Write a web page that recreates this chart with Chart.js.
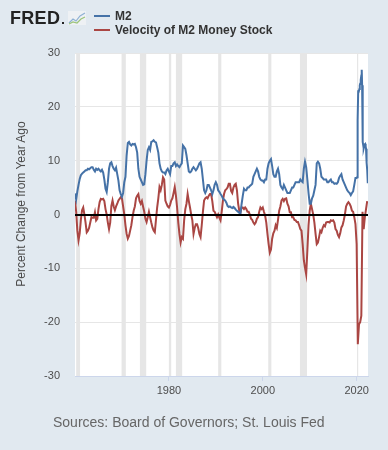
<!DOCTYPE html>
<html>
<head>
<meta charset="utf-8">
<script src="https://cdn.jsdelivr.net/npm/chart.js@4/dist/chart.umd.min.js"></script>
<style>
  html, body { margin: 0; padding: 0; }
  body { width: 388px; height: 450px; background: #e1e9f0; font-family: "Liberation Sans", Arial, sans-serif; }
  #wrap { position: relative; width: 388px; height: 450px; overflow: hidden; }
  canvas { position: absolute; left: 0; top: 0; }
  .logo { position: absolute; left: 10px; top: 8px; font-weight: 900; font-size: 18px; letter-spacing: 0.3px; color: #222; line-height: 20px; }
  .logo .dot { position: absolute; left: 52px; top: 14px; width: 2px; height: 2px; background: #222; }
  .logo svg { position: absolute; left: 58px; top: 3px; }
  .leg { position: absolute; left: 94px; font-weight: bold; font-size: 12px; color: #333; line-height: 14px; }
  .leg .sw { position: absolute; left: 0; top: 6px; width: 16px; height: 2px; }
  .leg .tx { position: absolute; left: 21px; top: 0; white-space: nowrap; }
  .ytitle { position: absolute; width: 250px; left: -104px; top: 196px; height: 16px; line-height: 16px; text-align: center; font-size: 12px; color: #4d4d4d; transform: rotate(-90deg); transform-origin: 50% 50%; white-space: nowrap; }
  .src { position: absolute; left: 53px; top: 414px; font-size: 14px; color: #666; white-space: nowrap; }
</style>
</head>
<body>
<div id="wrap">
  <canvas id="c" width="388" height="450"></canvas>
  <div class="logo">FRED<span class="dot"></span><svg width="18" height="14" viewBox="0 0 18 14"><rect x="0" y="0" width="18" height="14" fill="#eef1f4"/><polyline points="1,12 5,8 8,10 12,5 17,2" fill="none" stroke="#8fb1d4" stroke-width="1.2"/><polyline points="1,13 5,11 9,12 13,8 17,6" fill="none" stroke="#9cc47a" stroke-width="1.2"/></svg></div>
  <div class="leg" style="top:9px"><div class="sw" style="background:#4572a7"></div><div class="tx">M2</div></div>
  <div class="leg" style="top:23px"><div class="sw" style="background:#aa4643"></div><div class="tx">Velocity of M2 Money Stock</div></div>
  <div class="ytitle">Percent Change from Year Ago</div>
  <div class="src">Sources: Board of Governors; St. Louis Fed</div>
</div>
<script>
// M2, percent change from year ago, quarterly 1960Q1..2019Q4
const m2Quarterly = [
  3.9, 2.8, 4.3, 5.5,   6.6, 7.3, 7.6, 7.8,   8.0, 8.2, 8.2, 8.5,   8.4, 8.6, 8.8, 8.8,
  8.3, 8.0, 8.5, 8.3,   8.5, 8.2, 8.0, 8.3,   7.8, 6.5, 4.8, 4.2,   6.0, 8.5, 9.5, 9.7,
  9.0, 8.5, 8.2, 8.7,   7.5, 6.3, 4.5, 3.8,   3.3, 4.0, 6.0, 7.0,   11.0, 13.3, 13.5, 13.0,
  12.8, 13.1, 13.0, 13.1, 12.5, 11.5, 8.5, 7.0, 6.5, 6.0, 5.5, 5.6,  7.5, 10.0, 12.0, 12.5,
  12.0, 13.5, 13.6, 13.8, 13.5, 13.4, 12.5, 11.5, 9.5, 8.5, 8.0, 7.8, 7.8, 7.5, 8.2, 8.5,
  8.0, 7.5, 9.0, 9.0,   9.5, 9.7, 9.0, 9.3,   9.0, 8.8, 9.2, 9.5,   12.8, 12.5, 12.2, 11.0,
  9.5, 8.0, 7.8, 8.0,   8.5, 8.8, 8.5, 8.2,   8.5, 9.0, 9.5, 9.7,   8.5, 6.5, 4.5, 4.0,
  4.5, 5.5, 5.5, 5.0,   4.5, 3.8, 4.5, 5.5,   6.0, 5.5, 4.5, 4.2,   3.8, 3.5, 3.0, 2.8,
  2.6, 2.2, 1.6, 1.4,   1.5, 1.3, 1.2, 1.4,   1.2, 0.9, 0.7, 0.5,   0.3, 0.2, 2.0, 3.5,
  4.8, 4.5, 4.5, 5.0,   5.0, 5.3, 5.5, 5.7,   7.0, 7.5, 8.0, 8.5,   8.0, 7.0, 6.5, 6.3,
  6.3, 6.0, 6.5, 6.5,   8.5, 9.5, 10.0, 10.3, 9.0, 7.5, 7.0, 7.0,   8.0, 8.5, 7.5, 5.5,
  5.0, 4.7, 5.5, 5.0,   4.5, 4.0, 4.0, 4.0,   4.5, 5.0, 5.0, 5.5,   6.0, 6.0, 6.0, 6.0,
  6.5, 6.2, 6.0, 8.5,   9.8, 8.8, 6.5, 4.0,   2.0, 2.0, 3.0, 3.5,   4.5, 5.5, 9.5, 9.8,
  9.5, 8.5, 7.0, 6.8,   6.5, 6.5, 6.5, 6.0,   6.0, 6.3, 6.5, 6.0,   6.0, 5.7, 5.8, 5.7,
  6.0, 6.8, 7.2, 7.5,   6.5, 6.0, 5.5, 5.0,   4.5, 4.2, 4.0, 3.6,   4.0, 4.3, 5.5, 6.8
];
// M2, percent change from year ago, monthly 2020-01..2022-06
const m2Monthly = [
  6.8, 6.9, 10.2, 17.5, 22.9, 23.0, 22.9, 23.3, 24.0, 24.3, 24.7, 25.0,
  25.8, 26.9, 24.0, 17.8, 13.5, 12.8, 12.3, 12.6, 12.9, 13.0, 13.1, 12.7,
  12.2, 10.8, 9.6, 8.3, 6.7, 5.8
];
// Velocity of M2, percent change from year ago, quarterly 1960Q1..2022Q2
const velocityQuarterly = [
  2.6, 0.5, -3.0, -4.8,  -3.5, -1.0, 0.8, 1.3,   0.0, -1.5, -3.3, -3.0,  -2.5, -1.5, -0.5, -0.6,
  -0.6, 0.4, -1.1, -0.8,  1.0, 2.3, 2.9, 2.8,    2.9, 2.5, 1.0, 0.0,    -1.5, -2.7, -1.5, 1.6,
  2.6, 1.5, 0.8, 1.5,    2.0, 2.6, 2.9, 3.2,    3.0, 1.5, 0.0, -2.0,   -3.6, -4.5, -4.0, -3.0,
  -2.0, -0.5, 0.7, 1.5,  3.0, 3.5, 3.8, 2.5,    2.0, 2.5, 1.5, 0.5,    -0.8, -1.4, -0.5, 0.5,
  -0.5, -1.5, -2.4, -3.0, -3.3, -1.0, 1.3, 3.0,  5.1, 4.5, 5.5, 6.9,    6.5, 2.6, 2.0, 1.5,
  1.3, 1.8, 2.6, 3.0,    4.0, 5.1, 3.5, 1.3,    -1.5, -3.6, -5.2, -4.2, -4.5, -1.1, 1.0, 2.0,
  3.8, 2.5, 1.3, 0.0,    -1.1, -3.6, -2.5, -1.8, -1.8, -2.5, -3.6, -4.2, -2.0, 0.5, 2.6, 3.0,
  3.2, 3.0, 3.5, 3.8,    3.8, 2.5, 0.7, 0.5,    0.0, -0.5, 0.0, -0.6,  -1.1, 0.5, 2.5, 3.8,
  4.5, 4.7, 5.0, 5.7,    5.7, 4.4, 4.0, 5.0,    5.5, 5.7, 4.5, 2.0,    0.7, 0.4, 1.3, 1.3,
  1.0, 1.3, 1.0, 0.5,    0.5, 0.0, -0.8, -1.0,  -1.5, -1.8, -1.5, -0.8, -0.5, 0.5, 1.3, 1.0,
  1.3, 0.5, -0.2, -1.5,  -3.6, -5.5, -7.1, -6.5, -4.5, -3.5, -3.0, -2.0, -2.5, -1.0, 0.7, 1.5,
  2.6, 2.9, 2.5, 2.9,    3.0, 2.0, 1.5, 0.4,    0.4, -0.5, -0.5, -1.0,  -1.1, -1.4, -1.4, -2.0,
  -2.7, -3.0, -5.5, -8.5, -9.9, -11.1, -6.7, -2.0, 0.7, 2.0, 1.0, 0.0,  -1.5, -3.6, -5.5, -5.2,
  -4.2, -3.0, -3.3, -2.5, -2.0, -2.2, -1.5, -1.4, -1.4, -1.5, -1.1, -1.2, -1.1, -1.5, -2.7, -3.0,
  -3.8, -4.2, -3.5, -2.4, -2.0, -1.1, 0.0, 1.5,  2.0, 2.3, 2.0, 1.5,    0.7, 0.5, -0.5, -1.8,
  -5.5, -24.1, -20.4, -20.0, -18.8, 0.5, -2.7, -0.5, 1.0, 2.5
];
// NBER recessions (decimal years)
const recessionStarts = [1960.25, 1969.92, 1973.83, 1980.0, 1981.5, 1990.5, 2001.17, 2007.92, 2020.08];
const recessionEnds   = [1961.08, 1970.83, 1975.17, 1980.5, 1982.83, 1991.17, 2001.83, 2009.42, 2020.33];
const xTickYears = [1980, 2000, 2020];
const yMin = -30, yMax = 30, yStep = 10;

const m2Points = m2Quarterly.map((v, i) => ({ x: 1960 + i / 4, y: v }))
  .concat(m2Monthly.map((v, j) => ({ x: 2020 + j / 12, y: v })));
const velPoints = velocityQuarterly.map((v, i) => ({ x: 1960 + i / 4, y: v }));

const decor = {
  id: 'decor',
  beforeDraw(chart) {
    const { ctx, chartArea: a } = chart;
    ctx.save();
    ctx.fillStyle = '#ffffff';
    ctx.fillRect(a.left, a.top, a.right - a.left, a.bottom - a.top);
    ctx.restore();
  },
  beforeDatasetsDraw(chart) {
    const { ctx, chartArea: a, scales: { x } } = chart;
    ctx.save();
    ctx.fillStyle = '#e6e6e6';
    recessionStarts.forEach((s, i) => {
      const x0 = Math.max(a.left, x.getPixelForValue(s));
      const x1 = Math.min(a.right, x.getPixelForValue(recessionEnds[i]));
      ctx.fillRect(x0, a.top, x1 - x0, a.bottom - a.top);
    });
    ctx.restore();
  },
  afterDatasetsDraw(chart) {
    const { ctx, chartArea: a, scales: { y } } = chart;
    const py = Math.round(y.getPixelForValue(0));
    ctx.save();
    ctx.strokeStyle = '#000000';
    ctx.lineWidth = 2;
    ctx.beginPath();
    ctx.moveTo(a.left, py);
    ctx.lineTo(a.right, py);
    ctx.stroke();
    ctx.restore();
  }
};

new Chart(document.getElementById('c'), {
  type: 'line',
  data: {
    datasets: [
      { label: 'M2', data: m2Points, borderColor: '#4572a7', borderWidth: 2, pointRadius: 0, tension: 0, fill: false },
      { label: 'Velocity of M2 Money Stock', data: velPoints, borderColor: '#aa4643', borderWidth: 2, pointRadius: 0, tension: 0, fill: false }
    ]
  },
  options: {
    responsive: false,
    devicePixelRatio: 1,
    animation: false,
    layout: { padding: { top: 53, right: 20, left: 0, bottom: 0 } },
    plugins: { legend: { display: false }, tooltip: { enabled: false } },
    scales: {
      x: {
        type: 'linear',
        min: 1960,
        max: 2022.42,
        afterFit(s) { s.height = 74; },
        afterBuildTicks(s) { s.ticks = xTickYears.map(v => ({ value: v })); },
        grid: { drawOnChartArea: false, drawTicks: true, tickLength: 5, color: '#ccd6eb' },
        border: { display: true, color: '#ccd6eb', width: 1 },
        ticks: { padding: 3, color: '#4d4d4d', font: { family: 'Liberation Sans', size: 11 }, maxRotation: 0, callback: v => String(v) }
      },
      y: {
        min: yMin,
        max: yMax,
        afterFit(s) { s.width = 75; },
        grid: { color: '#e6e6e6', lineWidth: 1, drawTicks: false },
        border: { display: false },
        ticks: { stepSize: yStep, padding: 15, color: '#4d4d4d', font: { family: 'Liberation Sans', size: 11 } }
      }
    }
  },
  plugins: [decor]
});
</script>
</body>
</html>
